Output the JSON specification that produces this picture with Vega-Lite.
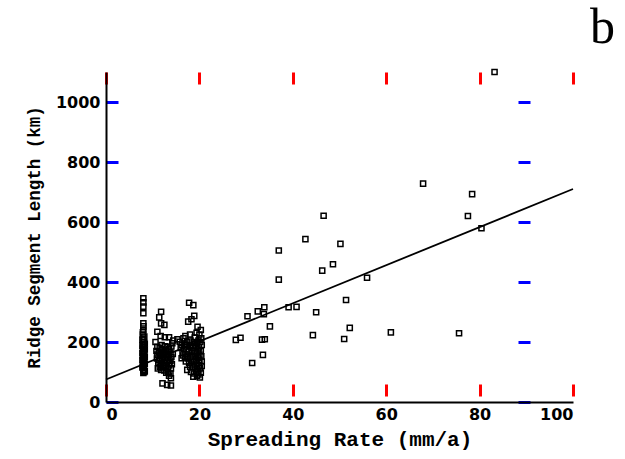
{
  "$schema": "https://vega.github.io/schema/vega-lite/v6.json",
  "autosize": "none",
  "width": 467,
  "height": 330,
  "padding": {"left": 106, "top": 72, "right": 52, "bottom": 57},
  "background": "white",
  "config": {"view": {"stroke": null}},
  "title": {"text": "b", "anchor": "end", "frame": "group", "font": "Liberation Serif", "fontSize": 50, "fontWeight": "normal", "color": "black", "baseline": "alphabetic", "offset": 0, "dx": 42, "dy": 27},
  "datasets": {
    "pts": [
      {"rate": 83.2, "len": 1100}, {"rate": 67.9, "len": 728}, {"rate": 78.4, "len": 693}, {"rate": 77.5, "len": 620}, {"rate": 80.4, "len": 579}, {"rate": 61.0, "len": 232}, {"rate": 75.6, "len": 229},
      {"rate": 46.6, "len": 621}, {"rate": 42.7, "len": 543}, {"rate": 50.2, "len": 527}, {"rate": 37.0, "len": 505}, {"rate": 48.6, "len": 459}, {"rate": 46.3, "len": 438}, {"rate": 37.0, "len": 408}, {"rate": 55.9, "len": 414}, {"rate": 51.4, "len": 340}, {"rate": 32.5, "len": 302}, {"rate": 33.9, "len": 316}, {"rate": 33.8, "len": 293}, {"rate": 39.1, "len": 316}, {"rate": 40.8, "len": 317}, {"rate": 45.0, "len": 299}, {"rate": 30.3, "len": 286}, {"rate": 35.1, "len": 252}, {"rate": 52.2, "len": 247}, {"rate": 27.8, "len": 207}, {"rate": 28.8, "len": 214}, {"rate": 33.4, "len": 208}, {"rate": 34.0, "len": 209}, {"rate": 44.3, "len": 223}, {"rate": 51.0, "len": 210}, {"rate": 33.6, "len": 157}, {"rate": 31.3, "len": 130},
      {"rate": 8.0, "len": 346}, {"rate": 8.0, "len": 332}, {"rate": 8.0, "len": 318}, {"rate": 8.0, "len": 296}, {"rate": 8.0, "len": 262}, {"rate": 8.0, "len": 252}, {"rate": 8.0, "len": 240}, {"rate": 7.9, "len": 225}, {"rate": 8.0, "len": 210}, {"rate": 8.1, "len": 200}, {"rate": 8.0, "len": 192}, {"rate": 8.2, "len": 185}, {"rate": 7.9, "len": 178}, {"rate": 8.1, "len": 172}, {"rate": 8.0, "len": 166}, {"rate": 8.2, "len": 160}, {"rate": 7.9, "len": 154}, {"rate": 8.0, "len": 148}, {"rate": 8.1, "len": 142}, {"rate": 8.0, "len": 136}, {"rate": 8.2, "len": 130}, {"rate": 7.9, "len": 124}, {"rate": 8.0, "len": 118}, {"rate": 8.1, "len": 112}, {"rate": 8.0, "len": 106}, {"rate": 8.2, "len": 100}, {"rate": 8.0, "len": 97},
      {"rate": 8.3, "len": 195}, {"rate": 7.8, "len": 188}, {"rate": 8.3, "len": 175}, {"rate": 7.8, "len": 163}, {"rate": 8.3, "len": 151}, {"rate": 7.8, "len": 139}, {"rate": 8.3, "len": 127}, {"rate": 7.8, "len": 115}, {"rate": 8.3, "len": 103}, {"rate": 7.8, "len": 208}, {"rate": 8.2, "len": 218}, {"rate": 7.9, "len": 232},
      {"rate": 11.8, "len": 301}, {"rate": 11.4, "len": 282}, {"rate": 11.8, "len": 262}, {"rate": 12.5, "len": 257}, {"rate": 11.0, "len": 234}, {"rate": 11.7, "len": 220}, {"rate": 12.6, "len": 216}, {"rate": 13.5, "len": 216}, {"rate": 14.2, "len": 196}, {"rate": 10.6, "len": 200},
      {"rate": 11.0, "len": 184}, {"rate": 11.5, "len": 180}, {"rate": 12.0, "len": 176}, {"rate": 10.8, "len": 170}, {"rate": 11.3, "len": 165}, {"rate": 12.2, "len": 168}, {"rate": 12.8, "len": 172}, {"rate": 13.5, "len": 176}, {"rate": 14.0, "len": 185}, {"rate": 11.0, "len": 158}, {"rate": 11.6, "len": 155}, {"rate": 12.3, "len": 150}, {"rate": 13.0, "len": 160}, {"rate": 13.8, "len": 165}, {"rate": 10.9, "len": 145}, {"rate": 11.4, "len": 140}, {"rate": 12.0, "len": 138}, {"rate": 12.7, "len": 142}, {"rate": 13.3, "len": 148}, {"rate": 14.0, "len": 150}, {"rate": 11.2, "len": 130}, {"rate": 11.8, "len": 126}, {"rate": 12.5, "len": 130}, {"rate": 13.1, "len": 135}, {"rate": 13.8, "len": 138}, {"rate": 11.5, "len": 118}, {"rate": 12.1, "len": 115}, {"rate": 12.8, "len": 120}, {"rate": 13.5, "len": 122}, {"rate": 14.1, "len": 126}, {"rate": 11.8, "len": 107}, {"rate": 12.5, "len": 105}, {"rate": 13.2, "len": 110}, {"rate": 13.9, "len": 112}, {"rate": 13.8, "len": 95}, {"rate": 13.5, "len": 88}, {"rate": 13.9, "len": 79}, {"rate": 12.1, "len": 62}, {"rate": 13.1, "len": 57}, {"rate": 13.9, "len": 55},
      {"rate": 11.9, "len": 190}, {"rate": 12.6, "len": 186}, {"rate": 13.2, "len": 182}, {"rate": 11.7, "len": 162}, {"rate": 12.5, "len": 158}, {"rate": 13.4, "len": 156}, {"rate": 11.6, "len": 147}, {"rate": 13.6, "len": 130}, {"rate": 12.2, "len": 122}, {"rate": 11.1, "len": 112}, {"rate": 12.9, "len": 98}, {"rate": 13.3, "len": 100}, {"rate": 14.3, "len": 160}, {"rate": 14.4, "len": 205},
      {"rate": 17.8, "len": 331}, {"rate": 18.7, "len": 323}, {"rate": 18.9, "len": 287}, {"rate": 17.6, "len": 268}, {"rate": 18.3, "len": 276}, {"rate": 19.6, "len": 251}, {"rate": 19.4, "len": 231}, {"rate": 15.8, "len": 201}, {"rate": 16.6, "len": 212}, {"rate": 15.3, "len": 209}, {"rate": 17.0, "len": 220}, {"rate": 18.0, "len": 225}, {"rate": 19.0, "len": 215}, {"rate": 20.0, "len": 225}, {"rate": 20.3, "len": 240}, {"rate": 19.8, "len": 205},
      {"rate": 16.2, "len": 190}, {"rate": 16.8, "len": 195}, {"rate": 17.4, "len": 200}, {"rate": 18.1, "len": 205}, {"rate": 18.8, "len": 200}, {"rate": 19.5, "len": 198}, {"rate": 20.2, "len": 200},
      {"rate": 16.0, "len": 180}, {"rate": 16.7, "len": 176}, {"rate": 17.3, "len": 185}, {"rate": 18.0, "len": 188}, {"rate": 18.6, "len": 180}, {"rate": 19.2, "len": 185}, {"rate": 19.9, "len": 182}, {"rate": 20.5, "len": 190},
      {"rate": 16.4, "len": 165}, {"rate": 17.0, "len": 160}, {"rate": 17.7, "len": 168}, {"rate": 18.4, "len": 162}, {"rate": 19.0, "len": 170}, {"rate": 19.6, "len": 165}, {"rate": 20.3, "len": 170},
      {"rate": 16.2, "len": 146}, {"rate": 16.9, "len": 150}, {"rate": 17.6, "len": 145}, {"rate": 18.3, "len": 150}, {"rate": 19.0, "len": 152}, {"rate": 19.7, "len": 148}, {"rate": 20.4, "len": 152},
      {"rate": 17.1, "len": 135}, {"rate": 17.8, "len": 130}, {"rate": 18.5, "len": 138}, {"rate": 19.2, "len": 135}, {"rate": 19.9, "len": 130}, {"rate": 20.5, "len": 135},
      {"rate": 17.4, "len": 107}, {"rate": 18.0, "len": 118}, {"rate": 18.7, "len": 115}, {"rate": 19.4, "len": 120}, {"rate": 20.1, "len": 112}, {"rate": 20.5, "len": 120},
      {"rate": 18.2, "len": 100}, {"rate": 18.9, "len": 95}, {"rate": 19.6, "len": 100}, {"rate": 20.3, "len": 98},
      {"rate": 18.7, "len": 84}, {"rate": 20.1, "len": 82}, {"rate": 19.5, "len": 88},
      {"rate": 19.0, "len": 192}, {"rate": 19.8, "len": 175}, {"rate": 20.0, "len": 158}, {"rate": 19.3, "len": 142}, {"rate": 20.0, "len": 140}, {"rate": 19.5, "len": 110}, {"rate": 19.8, "len": 92}, {"rate": 18.5, "len": 125}, {"rate": 17.5, "len": 155}, {"rate": 18.3, "len": 172}, {"rate": 20.4, "len": 212}, {"rate": 19.9, "len": 122}, {"rate": 17.2, "len": 190}, {"rate": 16.5, "len": 155}
    ],
    "fit": [{"rate": 0, "len": 75}, {"rate": 100, "len": 710}]
  },
  "layer": [
    {
      "data": {"name": "fit"},
      "mark": {"type": "line", "color": "black", "strokeWidth": 1.8},
      "encoding": {
        "x": {"field": "rate", "type": "quantitative"},
        "y": {"field": "len", "type": "quantitative"}
      }
    },
    {
      "data": {"name": "pts"},
      "mark": {"type": "point", "shape": "square", "filled": false, "color": "black", "size": 26, "strokeWidth": 1.5, "opacity": 1},
      "encoding": {
        "x": {
          "field": "rate", "type": "quantitative",
          "scale": {"domain": [0, 100], "nice": false, "zero": true},
          "axis": {"title": "Spreading Rate (mm/a)", "values": [0, 20, 40, 60, 80, 100], "ticks": false, "grid": true, "gridColor": "red", "gridOpacity": 1, "gridWidth": 3, "gridDash": [12, 300], "domainColor": "black", "domainWidth": 2, "labelPadding": 4, "labelFont": "DejaVu Sans", "labelFontWeight": "bold", "labelFontSize": 16, "labelColor": "black", "titleFont": "Liberation Mono", "titleFontWeight": "bold", "titleFontSize": 21, "titleColor": "black", "titlePadding": 6}
        },
        "y": {
          "field": "len", "type": "quantitative",
          "scale": {"domain": [0, 1100], "nice": false, "zero": true},
          "axis": {"title": "Ridge Segment Length (km)", "values": [0, 200, 400, 600, 800, 1000], "format": "d", "ticks": false, "grid": true, "gridColor": "blue", "gridOpacity": 1, "gridWidth": 3, "gridDash": [12, 400], "domainColor": "black", "domainWidth": 2, "labelPadding": 6, "labelFont": "DejaVu Sans", "labelFontWeight": "bold", "labelFontSize": 16, "labelColor": "black", "titleFont": "Liberation Mono", "titleFontWeight": "bold", "titleFontSize": 17.5, "titleColor": "black", "titlePadding": 12}
        }
      }
    }
  ]
}
